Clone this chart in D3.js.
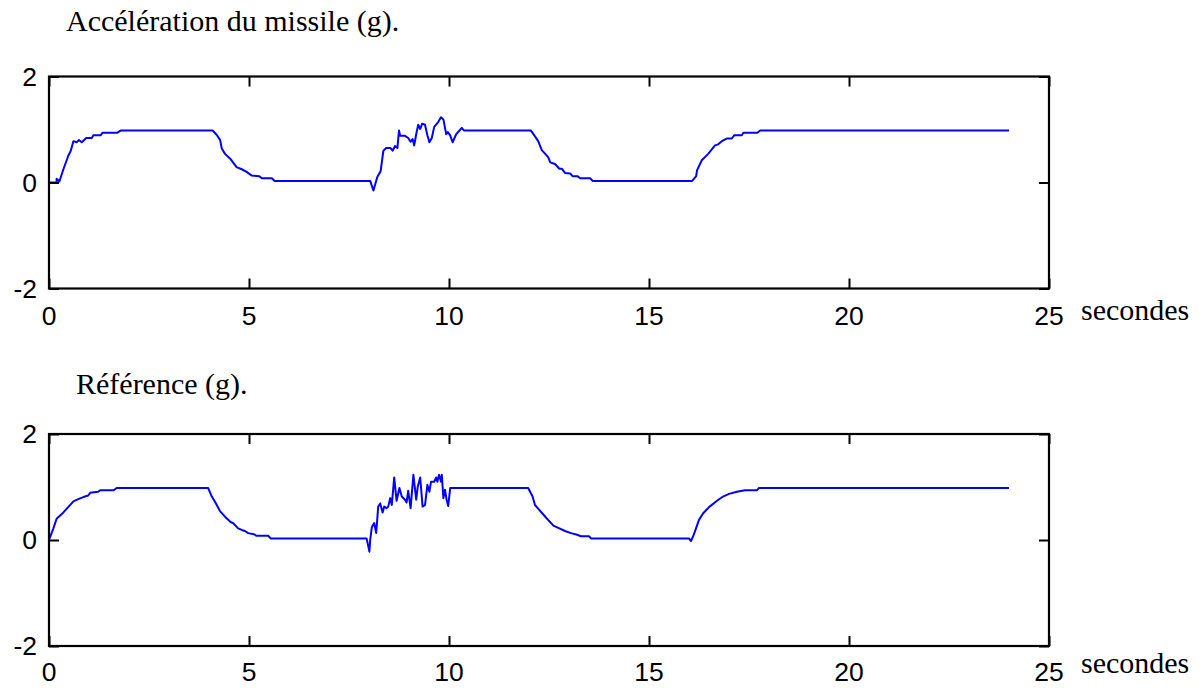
<!DOCTYPE html>
<html>
<head>
<meta charset="utf-8">
<script src="https://cdn.jsdelivr.net/npm/d3@7"></script>
<style>
  html, body { margin: 0; padding: 0; background: #fff; }
  svg { display: block; }
</style>
</head>
<body>
<svg id="chart" width="1202" height="688"></svg>
<script>
// ---------- data ----------
const xTicks = [0, 5, 10, 15, 20, 25];
const yTicks = [-2, 0, 2];
const xDomain = [0, 25];
const yDomain = [-2, 2];

const titleTop = "Accélération du missile (g).";
const titleBottom = "Référence (g).";
const xUnit = "secondes";

// [time (s), acceleration (g)]
const missilePoints = [
  [0,0],[0.19,0],[0.19,0.07],[0.26,0.02],[0.36,0.25],[0.48,0.5],[0.54,0.59],[0.61,0.78],
  [0.69,0.76],[0.75,0.8],[0.82,0.76],[0.93,0.84],[1.07,0.84],[1.11,0.89],[1.29,0.89],
  [1.34,0.94],[1.71,0.94],[1.79,0.98],[4.09,0.98],[4.19,0.9],[4.28,0.8],[4.32,0.64],
  [4.4,0.54],[4.53,0.45],[4.69,0.29],[4.82,0.25],[4.94,0.2],[5.07,0.13],[5.26,0.12],
  [5.32,0.08],[5.57,0.08],[5.64,0.03],[8.03,0.03],[8.11,-0.15],[8.21,0.11],[8.29,0.21],
  [8.36,0.6],[8.43,0.65],[8.54,0.65],[8.59,0.6],[8.65,0.69],[8.71,0.65],[8.75,0.98],
  [8.78,0.88],[8.9,0.88],[8.98,0.84],[9.04,0.77],[9.09,0.82],[9.13,0.7],[9.18,0.91],
  [9.23,1.09],[9.28,1.01],[9.33,1.11],[9.4,1.09],[9.46,0.89],[9.51,0.76],[9.57,0.84],
  [9.63,1.05],[9.73,1.14],[9.8,1.23],[9.86,1.19],[9.93,0.91],[9.97,0.95],[10.03,0.89],
  [10.09,0.76],[10.18,0.91],[10.32,1.03],[10.38,0.98],[12.05,0.98],[12.15,0.87],
  [12.23,0.78],[12.32,0.61],[12.48,0.48],[12.53,0.38],[12.65,0.35],[12.76,0.26],
  [12.82,0.26],[12.9,0.18],[13.03,0.17],[13.09,0.12],[13.21,0.12],[13.28,0.08],
  [13.53,0.08],[13.59,0.03],[16.08,0.03],[16.18,0.12],[16.2,0.23],[16.32,0.42],
  [16.48,0.54],[16.65,0.7],[16.73,0.72],[16.82,0.78],[16.94,0.83],[17.07,0.83],
  [17.13,0.89],[17.32,0.89],[17.36,0.94],[17.71,0.94],[17.78,0.98],[24.0,0.98]
];

const referencePoints = [
  [0,0],[0.11,0.22],[0.19,0.4],[0.36,0.52],[0.61,0.73],[0.73,0.77],[0.86,0.81],[0.98,0.84],
  [1.03,0.89],[1.23,0.91],[1.28,0.94],[1.62,0.94],[1.69,0.98],[3.98,0.98],[4.07,0.82],
  [4.15,0.72],[4.28,0.54],[4.4,0.44],[4.54,0.34],[4.6,0.32],[4.73,0.22],[4.82,0.19],
  [4.9,0.17],[4.98,0.13],[5.12,0.11],[5.19,0.08],[5.48,0.08],[5.54,0.03],[7.94,0.03],
  [8.01,-0.22],[8.03,0.0],[8.07,0.24],[8.13,0.32],[8.18,0.13],[8.23,0.63],[8.28,0.69],
  [8.34,0.52],[8.38,0.63],[8.44,0.6],[8.48,0.63],[8.53,0.79],[8.57,0.66],[8.63,1.18],
  [8.69,0.74],[8.76,0.98],[8.82,0.82],[8.9,0.76],[8.94,0.71],[8.98,0.93],[9.04,0.6],
  [9.11,1.23],[9.18,0.76],[9.22,1.01],[9.28,1.18],[9.34,0.63],[9.4,0.66],[9.46,1.04],
  [9.51,0.91],[9.55,1.1],[9.63,1.1],[9.68,1.18],[9.71,1.1],[9.75,1.23],[9.8,1.1],
  [9.82,1.23],[9.86,0.79],[9.9,0.95],[9.94,0.76],[9.98,0.64],[10.03,0.98],[11.98,0.98],
  [12.09,0.82],[12.15,0.66],[12.44,0.41],[12.61,0.27],[12.76,0.22],[12.9,0.17],
  [13.05,0.13],[13.2,0.1],[13.3,0.07],[13.5,0.07],[13.55,0.03],[16.0,0.03],[16.05,-0.02],
  [16.12,0.1],[16.25,0.38],[16.35,0.5],[16.5,0.62],[16.7,0.74],[16.85,0.82],[17.0,0.87],
  [17.2,0.91],[17.4,0.94],[17.7,0.94],[17.75,0.98],[24.0,0.98]
];

// ---------- drawing ----------
const svg = d3.select("#chart");
const x = d3.scaleLinear().domain(xDomain).range([49, 1049]);

const panels = [
  { top: 76.5, bottom: 288.5, title: titleTop, titleX: 66, titleY: 31, unitY: 320, tickLabelY: 325, data: missilePoints },
  { top: 434, bottom: 646, title: titleBottom, titleX: 76, titleY: 394, unitY: 673, tickLabelY: 681, data: referencePoints }
];

const serif = "'Liberation Serif', 'Times New Roman', serif";
const sans = "'Liberation Sans', Arial, sans-serif";
const tickLen = 10;

panels.forEach(p => {
  const y = d3.scaleLinear().domain(yDomain).range([p.bottom, p.top]);
  const g = svg.append("g");

  // title
  g.append("text").attr("x", p.titleX).attr("y", p.titleY)
    .attr("font-family", serif).attr("font-size", 30).attr("fill", "#000")
    .text(p.title);

  // line
  const line = d3.line().x(d => x(d[0])).y(d => y(d[1]));
  g.append("path").datum(p.data).attr("d", line)
    .attr("fill", "none").attr("stroke", "#0000ff").attr("stroke-width", 2)
    .attr("stroke-linejoin", "round");

  // axes with inward ticks
  const axB = d3.axisBottom(x).tickValues(xTicks).tickSize(-tickLen).tickFormat("");
  const axT = d3.axisTop(x).tickValues(xTicks).tickSize(-tickLen).tickFormat("");
  const axL = d3.axisLeft(y).tickValues(yTicks).tickSize(-tickLen).tickFormat("");
  const axR = d3.axisRight(y).tickValues(yTicks).tickSize(-tickLen).tickFormat("");
  [[axB, `translate(0,${p.bottom})`], [axT, `translate(0,${p.top})`],
   [axL, `translate(${x(0)},0)`], [axR, `translate(${x(25)},0)`]].forEach(([ax, tr]) => {
    const a = g.append("g").attr("transform", tr).call(ax);
    a.select(".domain").remove();
    a.selectAll(".tick line").attr("stroke", "#000").attr("stroke-width", 2);
  });

  // frame
  g.append("rect").attr("x", x(0)).attr("y", p.top)
    .attr("width", x(25) - x(0)).attr("height", p.bottom - p.top)
    .attr("fill", "none").attr("stroke", "#000").attr("stroke-width", 2.2);

  // tick labels
  g.selectAll(".xl").data(xTicks).enter().append("text")
    .attr("x", d => x(d)).attr("y", p.tickLabelY).attr("text-anchor", "middle")
    .attr("font-family", sans).attr("font-size", 26.5).attr("fill", "#000")
    .text(d => d);
  g.selectAll(".yl").data(yTicks).enter().append("text")
    .attr("x", 37).attr("y", d => y(d) + 9).attr("text-anchor", "end")
    .attr("font-family", sans).attr("font-size", 26.5).attr("fill", "#000")
    .text(d => d);

  // unit label
  g.append("text").attr("x", 1081).attr("y", p.unitY)
    .attr("font-family", serif).attr("font-size", 30).attr("fill", "#000")
    .text(xUnit);
});
</script>
</body>
</html>
